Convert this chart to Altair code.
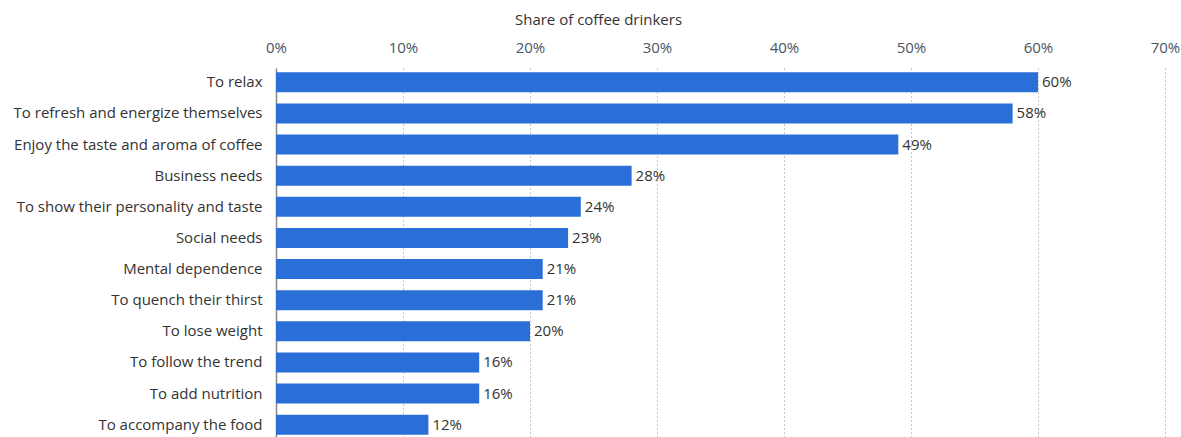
import altair as alt
import pandas as pd

categories = [
    "To relax",
    "To refresh and energize themselves",
    "Enjoy the taste and aroma of coffee",
    "Business needs",
    "To show their personality and taste",
    "Social needs",
    "Mental dependence",
    "To quench their thirst",
    "To lose weight",
    "To follow the trend",
    "To add nutrition",
    "To accompany the food",
]
values = [60, 58, 49, 28, 24, 23, 21, 21, 20, 16, 16, 12]
tick_values = [0, 10, 20, 30, 40, 50, 60, 70]

df = pd.DataFrame({"reason": categories, "share": values})
df["label"] = df["share"].astype(str) + "%"

FONT = "Open Sans"

x = alt.X(
    "share:Q",
    scale=alt.Scale(domain=[0, 70], nice=False, zero=True),
    axis=alt.Axis(
        orient="top",
        values=tick_values,
        labelExpr="datum.value + '%'",
        title="Share of coffee drinkers",
        titleFont=FONT,
        titleFontSize=15,
        titleFontWeight="normal",
        titleColor="#333333",
        titleX=322,
        titleY=-49,
        titleBaseline="middle",
        titleAnchor="middle",
        titleAlign="center",
        labelFont=FONT,
        labelFontSize=15,
        labelColor="#4a5563",
        labelBaseline="middle",
        labelAlign="center",
        labelFlush=False,
        labelPadding=21,
        domain=False,
        ticks=False,
        grid=True,
        gridDash=[1, 3],
        gridColor="#8a9096",
        gridWidth=1,
    ),
)
y = alt.Y(
    "reason:N",
    sort=categories,
    scale=alt.Scale(paddingInner=0.36, paddingOuter=0.14),
    axis=alt.Axis(
        title=None,
        labelFont=FONT,
        labelFontSize=15,
        labelColor="#333333",
        labelPadding=14,
        domain=True,
        domainColor="#888888",
        domainWidth=1.5,
        ticks=False,
        grid=False,
        labelLimit=300,
    ),
)

bars = alt.Chart(df).mark_bar(color="#2a6fd8").encode(x=x, y=y)
text = alt.Chart(df).mark_text(
    align="left", baseline="middle", dx=4, font=FONT, fontSize=15, color="#333333"
).encode(x=alt.X("share:Q"), y=alt.Y("reason:N", sort=categories), text="label:N")

chart = (
    alt.layer(bars, text)
    .properties(
        width=889,
        height=371,
        autosize=alt.AutoSizeParams(type="none"),
        padding={"left": 276, "top": 68, "right": 16, "bottom": 0},
        background="white",
    )
    .configure_view(stroke=None)
)

chart.save("out.html", embed_options={"renderer": "svg", "actions": False})
